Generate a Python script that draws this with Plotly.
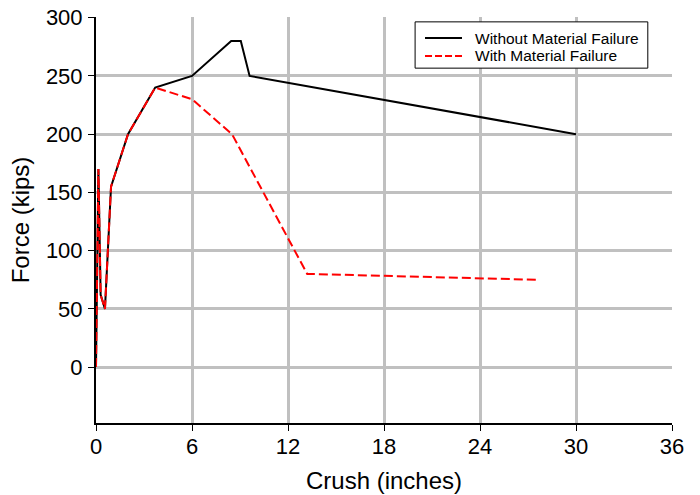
import plotly.graph_objects as go

# Data
crush_without = [0, 0.15, 0.29, 0.56, 0.94, 2.0, 3.7, 6.0, 8.45, 9.05, 9.6, 30.0]
force_without = [0, 170, 62, 50, 155, 200, 240, 250, 280, 280, 250, 200]

crush_with = [0, 0.15, 0.29, 0.56, 0.94, 2.0, 3.7, 6.0, 8.5, 13.2, 27.6]
force_with = [0, 170, 62, 50, 155, 200, 240, 230, 200, 80, 75]

x_ticks = [0, 6, 12, 18, 24, 30, 36]
y_ticks = [0, 50, 100, 150, 200, 250, 300]

series_names = ["Without Material Failure", "With Material Failure"]
series_colors = ["black", "red"]
series_dash = ["solid", "9px,4px"]

fig = go.Figure()
fig.add_trace(go.Scatter(x=crush_without, y=force_without, mode="lines",
                         name=series_names[0], showlegend=False,
                         line=dict(color=series_colors[0], width=2, dash=series_dash[0])))
fig.add_trace(go.Scatter(x=crush_with, y=force_with, mode="lines",
                         name=series_names[1], showlegend=False,
                         line=dict(color=series_colors[1], width=2, dash=series_dash[1])))

font_family = "Liberation Sans, Arial, sans-serif"

# Legend box drawn in paper coordinates (Excel-style compact legend)
shapes = [dict(type="rect", xref="paper", yref="paper", x0=0.554, x1=0.958, y0=0.874, y1=0.988,
               line=dict(color="black", width=1), fillcolor="white", layer="above")]
annotations = []
row_y = [0.948, 0.904]
legend_dash = ["solid", "7px,3px"]
for name, color, dash, ry in zip(series_names, series_colors, legend_dash, row_y):
    shapes.append(dict(type="line", xref="paper", yref="paper", x0=0.5712, x1=0.6354, y0=ry, y1=ry,
                       line=dict(color=color, width=2, dash=dash), layer="above"))
    annotations.append(dict(xref="paper", yref="paper", x=0.6545, y=ry, xanchor="left", yanchor="middle",
                            text=name, showarrow=False, font=dict(size=15.5, family=font_family, color="black")))

fig.update_layout(
    width=700, height=495,
    margin=dict(l=96, r=28, t=17, b=72, autoexpand=False),
    plot_bgcolor="white", paper_bgcolor="white",
    font=dict(family=font_family, color="black"),
    showlegend=False,
    shapes=shapes,
    annotations=annotations,
)
fig.update_xaxes(range=[0, 36], tickvals=x_ticks, ticktext=[str(v) for v in x_ticks],
                 automargin=False,
                 showgrid=True, gridcolor="#c0c0c0", gridwidth=3, zeroline=False,
                 showline=True, linecolor="black", linewidth=2,
                 ticks="outside", ticklen=6, tickcolor="black", tickwidth=1,
                 ticklabelstandoff=-3, ticklabeloverflow="allow",
                 tickfont=dict(size=22), title=dict(text="Crush (inches)", font=dict(size=24), standoff=14))
fig.update_yaxes(range=[-48, 300.6], tickvals=y_ticks, ticktext=[str(v) for v in y_ticks],
                 automargin=False,
                 showgrid=True, gridcolor="#c0c0c0", gridwidth=3, zeroline=False,
                 showline=True, linecolor="black", linewidth=2,
                 ticks="outside", ticklen=6, tickcolor="black", tickwidth=1,
                 ticklabelstandoff=1, ticklabeloverflow="allow",
                 tickfont=dict(size=22), title=dict(text="Force (kips)", font=dict(size=24), standoff=9))

fig.write_html("out.html", config={"displayModeBar": False},
               post_script="document.body.style.margin='0';")
